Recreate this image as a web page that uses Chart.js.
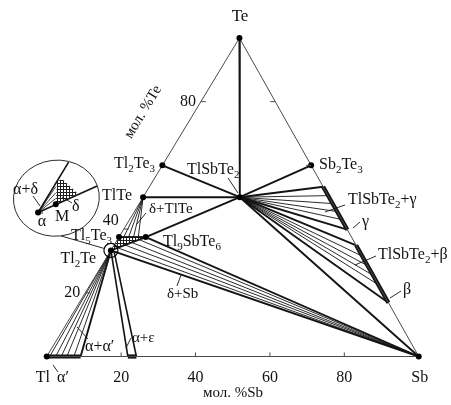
<!DOCTYPE html>
<html>
<head>
<meta charset="utf-8">
<script src="https://cdn.jsdelivr.net/npm/chart.js@4/dist/chart.umd.min.js"></script>
<style>
  html, body { margin: 0; padding: 0; background: #fff; }
  canvas { display: block; }
</style>
</head>
<body>
<canvas id="c" width="451" height="405"></canvas>
<script>
// Tl–Sb–Te isothermal section. Every composition is [mol.% Sb, mol.% Te]; the rest is Tl.

const compoundNames = ['Tl2Te', 'Tl5Te3', 'TlTe', 'Tl2Te3', 'Sb2Te3', 'TlSbTe2', 'Tl9SbTe6'];
const compoundSb    = [0,       0,        0,      0,        40,       26,        7.2];
const compoundTe    = [33.3,    37.5,     50,     60,       60,       50,        37.5];

// solid-solution ranges on the sides of the triangle
const alphaPrimeSb = [0, 9.1];      // α′ along Tl–Sb
const epsilonSb    = [21.8, 24.1];  // ε along Tl–Sb
const gammaTe      = [53.3, 39.8];  // γ along Sb–Te
const betaTe       = [34.9, 16.9];  // β along Sb–Te

// tie-line ends
const alphaAlphaPrimeEndsSb = [0.8, 2.4, 3.9, 5.4, 7.3, 9.1];        // Tl2Te – α′
const gammaEndsTe           = [53.3, 50.5, 48, 45.5, 43, 39.8];      // TlSbTe2 – γ
const betaEndsTe            = [34.9, 31.5, 28.5, 25.5, 22.5, 16.9];  // TlSbTe2 – β
const deltaTlTeEndsSb       = [1.3, 2.6, 3.9, 5.2];                  // TlTe – δ (Te = 37.5)
const deltaSbStartsSb       = [0, 1.4, 2.9, 4.3, 5.8, 7.2];          // δ – Sb
const deltaSbStartsTe       = [33.3, 34.1, 35.0, 35.8, 36.7, 37.5];
const alphaEpsStartsSb      = [0, 1.0];                              // α – ε
const alphaEpsStartsTe      = [33.3, 33.0];

// magnified neighbourhood of Tl2Te
const insetM         = [0.57, 33.73];
const insetSideEnd   = [0, 35.94];
const insetJoinEnd   = [1.93, 34.69];
const insetDeltaSb   = [0, 0.19, 1.27, 0.57];
const insetDeltaTe   = [34.94, 35.04, 34.28, 33.73];
const insetTieSb     = [0.1, 0.26, 0.41];
const insetTieTe     = [34.64, 34.33, 34.03];

// axis ticks
const sbTicks      = [20, 40, 60, 80];
const teTicksLeft  = [20, 40, 80];
const teTicksRight = [60, 80];

// ---------------------------------------------------------------------------
const SKEW = 0.518;                     // apex offset per mol.% Te
const tern = (sb, te) => ({ x: sb + SKEW * te, y: te });
const cmp = name => { const i = compoundNames.indexOf(name); return tern(compoundSb[i], compoundTe[i]); };
const TL = tern(0, 0), SB = tern(100, 0), TE = tern(0, 100);

const INSET_ANCHOR = { x: -2.33, y: 45.2 };   // where Tl2Te sits in the magnified view
const INSET_ZOOM = 6;
const inset = (sb, te) => {
  const p = tern(sb, te), o = cmp('Tl2Te');
  return { x: INSET_ANCHOR.x + INSET_ZOOM * (p.x - o.x), y: INSET_ANCHOR.y + INSET_ZOOM * (p.y - o.y) };
};

const INK = '#141414', EDGE = '#4a4a4a';
const THIN = 0.9, BOLD = 1.9, HEAVY = 4.2;
const datasets = [];
function line(pts, width, color) {
  datasets.push({
    data: pts, showLine: true, borderColor: color || INK, borderWidth: width,
    pointRadius: 0, pointHoverRadius: 0, clip: false, order: 2, borderCapStyle: 'butt'
  });
}

// sides of the triangle
line([TL, SB, TE, TL], 1, EDGE);

// joins through TlSbTe2 and the δ field
const TST = cmp('TlSbTe2');
line([TE, TST], BOLD);
line([cmp('Tl2Te3'), TST], BOLD);
line([cmp('TlTe'), TST], BOLD);
line([cmp('Sb2Te3'), TST], BOLD);
line([TST, cmp('Tl9SbTe6'), cmp('Tl2Te')], BOLD);
line([cmp('Tl5Te3'), cmp('Tl9SbTe6')], BOLD);
line([TST, SB], BOLD);

// TlSbTe2 + γ and TlSbTe2 + β
gammaEndsTe.forEach((te, i, a) => line([TST, tern(100 - te, te)], (i === 0 || i === a.length - 1) ? BOLD : THIN));
betaEndsTe.forEach((te, i, a) => line([TST, tern(100 - te, te)], (i === 0 || i === a.length - 1) ? BOLD : THIN));

// δ + TlTe
deltaTlTeEndsSb.forEach(sb => line([cmp('TlTe'), tern(sb, 37.5)], THIN));

// δ + Sb
deltaSbStartsSb.forEach((sb, i, a) => line([tern(sb, deltaSbStartsTe[i]), SB], (i === 0 || i === a.length - 1) ? BOLD : THIN));

// α + α′
alphaAlphaPrimeEndsSb.forEach((sb, i, a) => line([cmp('Tl2Te'), tern(sb, 0)], i === a.length - 1 ? BOLD : THIN));

// α + ε
line([tern(alphaEpsStartsSb[0], alphaEpsStartsTe[0]), tern(epsilonSb[0], 0)], 1.6);
line([tern(alphaEpsStartsSb[1], alphaEpsStartsTe[1]), tern(epsilonSb[1], 0)], 1.6);

// solid solutions
line([tern(alphaPrimeSb[0], 0), tern(alphaPrimeSb[1], 0)], HEAVY);
line([tern(epsilonSb[0], 0), tern(epsilonSb[1], 0)], HEAVY);
line([tern(100 - gammaTe[0], gammaTe[0]), tern(100 - gammaTe[1], gammaTe[1])], HEAVY);
line([tern(100 - betaTe[0], betaTe[0]), tern(100 - betaTe[1], betaTe[1])], HEAVY);

// magnified view
const iA = inset(0, 33.3);
line([iA, inset(insetSideEnd[0], insetSideEnd[1])], 1.6);
line([iA, inset(insetJoinEnd[0], insetJoinEnd[1])], 1.6);
insetTieSb.forEach((sb, i) => line([iA, inset(sb, insetTieTe[i])], 0.8));

// compounds and corners
datasets.push({
  data: [...compoundNames.map(cmp), TL, SB, TE, iA, inset(insetM[0], insetM[1])],
  showLine: false, pointRadius: 3, pointBackgroundColor: '#000', pointBorderWidth: 0,
  pointHoverRadius: 3, clip: false, order: 0
});
// ring around Tl2Te
datasets.push({
  data: [cmp('Tl2Te')], showLine: false, pointRadius: 7, pointBackgroundColor: 'rgba(0,0,0,0)',
  pointBorderColor: '#000', pointBorderWidth: 1.2, pointHoverRadius: 7, clip: false, order: 0
});

// ---------------------------------------------------------------------------
const FONT = '"Liberation Serif", "Times New Roman", serif';

// label text ("_x" = subscript x), x, y, alignment, size
const labels = [
  ['Te', 240, 17, 'center', 17],
  ['Tl_2Te_3', 155, 164, 'right', 16],
  ['TlSbTe_2', 187, 170, 'left', 16],
  ['Sb_2Te_3', 319, 165, 'left', 16],
  ['TlTe', 132, 196, 'right', 16],
  ['δ+TlTe', 149, 209, 'left', 15],
  ['Tl_5Te_3', 112, 236, 'right', 16],
  ['Tl_9SbTe_6', 163, 242, 'left', 16],
  ['Tl_2Te', 96, 259, 'right', 16],
  ['δ+Sb', 167, 294, 'left', 15],
  ['α+α′', 85, 347, 'left', 16],
  ['α+ε', 132, 338, 'left', 15],
  ['α′', 57, 378, 'left', 16],
  ['TlSbTe_2+γ', 348, 200, 'left', 16],
  ['γ', 362, 222, 'left', 16],
  ['TlSbTe_2+β', 378, 255, 'left', 16],
  ['β', 403, 290, 'left', 16],
  ['α+δ', 13, 190, 'left', 16],
  ['α', 42, 222, 'center', 16],
  ['M', 55, 217, 'left', 16],
  ['δ', 72, 207, 'left', 16]
];
const leaders = [
  [228, 178, 238, 193], [137, 224, 146, 213], [177, 286, 181, 275],
  [77, 327, 88, 339], [126, 348, 131, 338], [53, 365, 58, 372],
  [325, 212, 345, 205], [353, 228, 360, 222], [355, 265, 376, 256],
  [390, 298, 401, 291], [33, 196, 40, 206], [42, 210, 42, 214], [62, 197, 72, 203]
];

function splitSub(s) {
  const out = []; let buf = '';
  for (let i = 0; i < s.length; i++) {
    if (s[i] === '_') { if (buf) out.push([buf, false]); buf = ''; out.push([s[i + 1], true]); i++; }
    else buf += s[i];
  }
  if (buf) out.push([buf, false]);
  return out;
}
function drawLabel(ctx, text, x, y, align, size) {
  const ps = splitSub(text), sub = Math.round(size * 0.68);
  const w = ps.map(([t, s]) => { ctx.font = `${s ? sub : size}px ${FONT}`; return ctx.measureText(t).width; });
  const total = w.reduce((a, b) => a + b, 0);
  let cx = align === 'right' ? x - total : align === 'center' ? x - total / 2 : x;
  ps.forEach(([t, s], i) => {
    ctx.font = `${s ? sub : size}px ${FONT}`;
    ctx.fillText(t, cx, s ? y + size * 0.3 : y);
    cx += w[i];
  });
}

function hatch(ctx) {
  const c = document.createElement('canvas'); c.width = c.height = 3;
  const g = c.getContext('2d');
  g.fillStyle = '#fff'; g.fillRect(0, 0, 3, 3);
  g.fillStyle = '#1e1e1e'; g.fillRect(0, 0, 3, 1); g.fillRect(0, 0, 1, 3);
  return ctx.createPattern(c, 'repeat');
}

const INSET_FRAME = { x: 2.59, y: 49.7, rx: 43, ry: 38, tilt: -0.12 };

const decor = {
  id: 'decor',
  beforeDatasetsDraw(chart) {
    const { ctx } = chart, sx = chart.scales.x, sy = chart.scales.y;
    const P = p => [sx.getPixelForValue(p.x), sy.getPixelForValue(p.y)];
    const polys = [
      [cmp('Tl5Te3'), cmp('Tl9SbTe6'), cmp('Tl2Te')],
      insetDeltaSb.map((sb, i) => inset(sb, insetDeltaTe[i]))
    ];
    ctx.save();
    ctx.fillStyle = hatch(ctx);
    polys.forEach(poly => {
      ctx.beginPath();
      poly.forEach((p, i) => { const [x, y] = P(p); i ? ctx.lineTo(x, y) : ctx.moveTo(x, y); });
      ctx.closePath(); ctx.fill();
    });
    ctx.restore();
  },
  afterDatasetsDraw(chart) {
    const { ctx } = chart, sx = chart.scales.x, sy = chart.scales.y;
    const P = p => [sx.getPixelForValue(p.x), sy.getPixelForValue(p.y)];
    ctx.save();
    ctx.strokeStyle = EDGE; ctx.lineWidth = 1;

    // ticks
    sbTicks.forEach(v => { const [x, y] = P(tern(v, 0)); ctx.beginPath(); ctx.moveTo(x, y); ctx.lineTo(x, y - 4); ctx.stroke(); });
    teTicksLeft.forEach(v => { const [x, y] = P(tern(0, v)); ctx.beginPath(); ctx.moveTo(x, y); ctx.lineTo(x + 5, y); ctx.stroke(); });
    teTicksRight.forEach(v => { const [x, y] = P(tern(100 - v, v)); ctx.beginPath(); ctx.moveTo(x, y); ctx.lineTo(x - 5, y); ctx.stroke(); });

    // frame of the magnified view and its pointer to Tl2Te
    ctx.strokeStyle = '#2a2a2a'; ctx.lineWidth = 1;
    const [ex, ey] = P(INSET_FRAME);
    ctx.beginPath(); ctx.ellipse(ex, ey, INSET_FRAME.rx, INSET_FRAME.ry, INSET_FRAME.tilt, 0, Math.PI * 2); ctx.stroke();
    const [cx, cy] = P(cmp('Tl2Te'));
    const bx = ex + Math.sin(-INSET_FRAME.tilt) * INSET_FRAME.ry, by = ey + Math.cos(INSET_FRAME.tilt) * INSET_FRAME.ry;
    const dx = cx - bx, dy = cy - by, d = Math.hypot(dx, dy);
    ctx.beginPath(); ctx.moveTo(bx, by); ctx.lineTo(cx - 7 * dx / d, cy - 7 * dy / d); ctx.stroke();

    // leader lines
    ctx.strokeStyle = INK; ctx.lineWidth = 0.9;
    leaders.forEach(([x1, y1, x2, y2]) => { ctx.beginPath(); ctx.moveTo(x1, y1); ctx.lineTo(x2, y2); ctx.stroke(); });

    // text
    ctx.fillStyle = '#111'; ctx.textBaseline = 'middle'; ctx.textAlign = 'left';
    labels.forEach(([t, x, y, a, s]) => drawLabel(ctx, t, x, y, a, s));

    sbTicks.forEach(v => { const [x] = P(tern(v, 0)); drawLabel(ctx, String(v), x, 378, 'center', 16); });
    { const [x] = P(TL); drawLabel(ctx, 'Tl', x - 4, 378, 'center', 16); }
    { const [x] = P(SB); drawLabel(ctx, 'Sb', x + 1, 378, 'center', 16); }
    teTicksLeft.forEach(v => {
      const [x, y] = P(tern(0, v));
      drawLabel(ctx, String(v), x - 5, v === 40 ? y - 8 : y, 'right', 16);
    });

    ctx.font = `15px ${FONT}`; ctx.textAlign = 'center';
    ctx.fillText('мол. %Sb', 233, 393);
    ctx.translate(143, 112); ctx.rotate(-Math.atan2(332, 200));
    ctx.fillText('мол. %Te', 0, 0);
    ctx.restore();
  }
};

new Chart(document.getElementById('c'), {
  type: 'scatter',
  data: { datasets },
  options: {
    responsive: false, maintainAspectRatio: false, animation: false,
    layout: { padding: 0 },
    events: [],
    plugins: { legend: { display: false }, tooltip: { enabled: false } },
    scales: {
      x: { type: 'linear', display: false, min: -10.363, max: 106.477 },
      y: { type: 'linear', display: false, min: -12.651, max: 109.337 }
    }
  },
  plugins: [decor]
});
</script>
</body>
</html>
